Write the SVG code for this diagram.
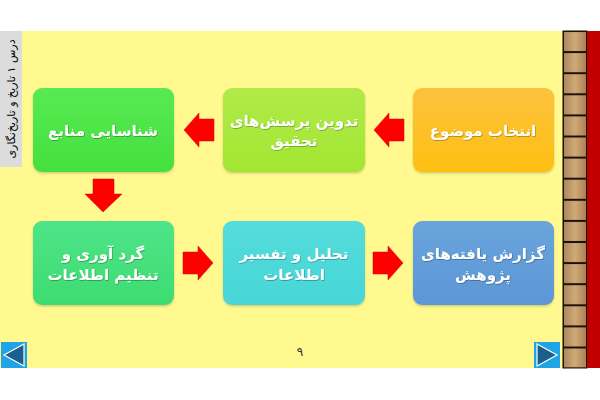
<svg xmlns="http://www.w3.org/2000/svg" width="600" height="400" viewBox="0 0 600 400">
<defs>
<linearGradient id="gOrange" x1="0" y1="0" x2="0" y2="1"><stop offset="0" stop-color="#FCC23E"/><stop offset="1" stop-color="#FEBF10"/></linearGradient>
<linearGradient id="gLime" x1="0" y1="0" x2="0" y2="1"><stop offset="0" stop-color="#B0EA48"/><stop offset="1" stop-color="#A3E632"/></linearGradient>
<linearGradient id="gGreen" x1="0" y1="0" x2="0" y2="1"><stop offset="0" stop-color="#58EA52"/><stop offset="1" stop-color="#44E03E"/></linearGradient>
<linearGradient id="gSea" x1="0" y1="0" x2="0" y2="1"><stop offset="0" stop-color="#4FE488"/><stop offset="1" stop-color="#3DDC72"/></linearGradient>
<linearGradient id="gCyan" x1="0" y1="0" x2="0" y2="1"><stop offset="0" stop-color="#55DCDC"/><stop offset="1" stop-color="#47D6D6"/></linearGradient>
<linearGradient id="gBlue" x1="0" y1="0" x2="0" y2="1"><stop offset="0" stop-color="#6AA4DC"/><stop offset="1" stop-color="#5B97D6"/></linearGradient>
<linearGradient id="gWood" x1="0" y1="0" x2="1" y2="0"><stop offset="0" stop-color="#AC845A"/><stop offset="0.5" stop-color="#CFAA78"/><stop offset="1" stop-color="#A87E52"/></linearGradient>
<filter id="ts" x="-10%" y="-10%" width="120%" height="130%"><feDropShadow dx="0.6" dy="0.8" stdDeviation="0.5" flood-color="#000" flood-opacity="0.35"/></filter>
<filter id="bs" x="-5%" y="-5%" width="110%" height="115%"><feDropShadow dx="0" dy="1.5" stdDeviation="1.2" flood-color="#7a7a40" flood-opacity="0.35"/></filter>
<pattern id="bricks" x="563" y="31" width="24" height="21.1" patternUnits="userSpaceOnUse">
<rect x="0" y="0" width="24" height="21.1" fill="url(#gWood)" stroke="#1a1208" stroke-width="2"/>
</pattern>
</defs>
<style>
.box{filter:url(#bs);}
.lbl{font-family:"DejaVu Sans","Noto Sans",sans-serif;font-weight:bold;font-size:15px;fill:#ffffff;text-anchor:middle;filter:url(#ts);}
.arr{fill:#FF0000;stroke:#E00000;stroke-width:0.5;}
.nav{fill:#1FA5E6;}
.tri{fill:#1B5F8E;stroke:#ffffff;stroke-width:1.2;}
</style>
<rect x="0" y="0" width="600" height="400" fill="#ffffff"/>
<rect x="0" y="31" width="563" height="337" fill="#FFF98F"/>
<rect x="0" y="31" width="22" height="136" fill="#DCDCDC"/>
<text transform="translate(15,99) rotate(-90)" font-family="DejaVu Sans, sans-serif" font-size="11" fill="#000" text-anchor="middle" direction="rtl">درس ۱ تاریخ و تاریخ‌نگاری</text>
<rect x="563" y="31" width="24" height="337" fill="url(#bricks)" stroke="#1a1208" stroke-width="1"/>
<rect x="587" y="31" width="13" height="337" fill="#C00000"/>

<g id="node1"><rect class="box" x="413" y="88" width="141" height="84" rx="9" fill="url(#gOrange)"/><text class="lbl" x="483" y="136" direction="rtl">انتخاب موضوع</text></g>
<g id="node2"><rect class="box" x="223" y="88" width="142" height="84" rx="9" fill="url(#gLime)"/><text class="lbl" x="294" y="126" direction="rtl">تدوین پرسش‌های</text><text class="lbl" x="294" y="146" direction="rtl">تحقیق</text></g>
<g id="node3"><rect class="box" x="33" y="88" width="141" height="84" rx="9" fill="url(#gGreen)"/><text class="lbl" x="103" y="136" direction="rtl">شناسایی منابع</text></g>
<g id="node4"><rect class="box" x="33" y="221" width="141" height="84" rx="9" fill="url(#gSea)"/><text class="lbl" x="103" y="259" direction="rtl">گرد آوری و</text><text class="lbl" x="103" y="280" direction="rtl">تنظیم اطلاعات</text></g>
<g id="node5"><rect class="box" x="223" y="221" width="142" height="84" rx="9" fill="url(#gCyan)"/><text class="lbl" x="294" y="259" direction="rtl">تحلیل و تفسیر</text><text class="lbl" x="294" y="280" direction="rtl">اطلاعات</text></g>
<g id="node6"><rect class="box" x="413" y="221" width="141" height="84" rx="9" fill="url(#gBlue)"/><text class="lbl" x="483" y="259" direction="rtl">گزارش یافته‌های</text><text class="lbl" x="483" y="280" direction="rtl">پژوهش</text></g>

<g id="connectors">
<polygon class="arr" points="404,119 389,119 389,113 374,130 389,147 389,141 404,141"/>
<polygon class="arr" points="214,119 199,119 199,113 184,130 199,147 199,141 214,141"/>
<polygon class="arr" points="93,179 114,179 114,194 122,194 103,212 85,194 93,194"/>
<polygon class="arr" points="183,252 198,252 198,246 213,263 198,280 198,274 183,274"/>
<polygon class="arr" points="373,252 388,252 388,246 403,263 388,280 388,274 373,274"/>
</g>

<text x="300" y="356" font-family="DejaVu Sans, sans-serif" font-size="12" fill="#333" text-anchor="middle">۹</text>

<g id="navPrev"><rect class="nav" x="1" y="342" width="26" height="26"/><polygon class="tri" points="24,344 4,355 24,366"/></g>
<g id="navNext"><rect class="nav" x="534" y="342" width="26" height="26"/><polygon class="tri" points="537,344 557,355 537,366"/></g>
</svg>
